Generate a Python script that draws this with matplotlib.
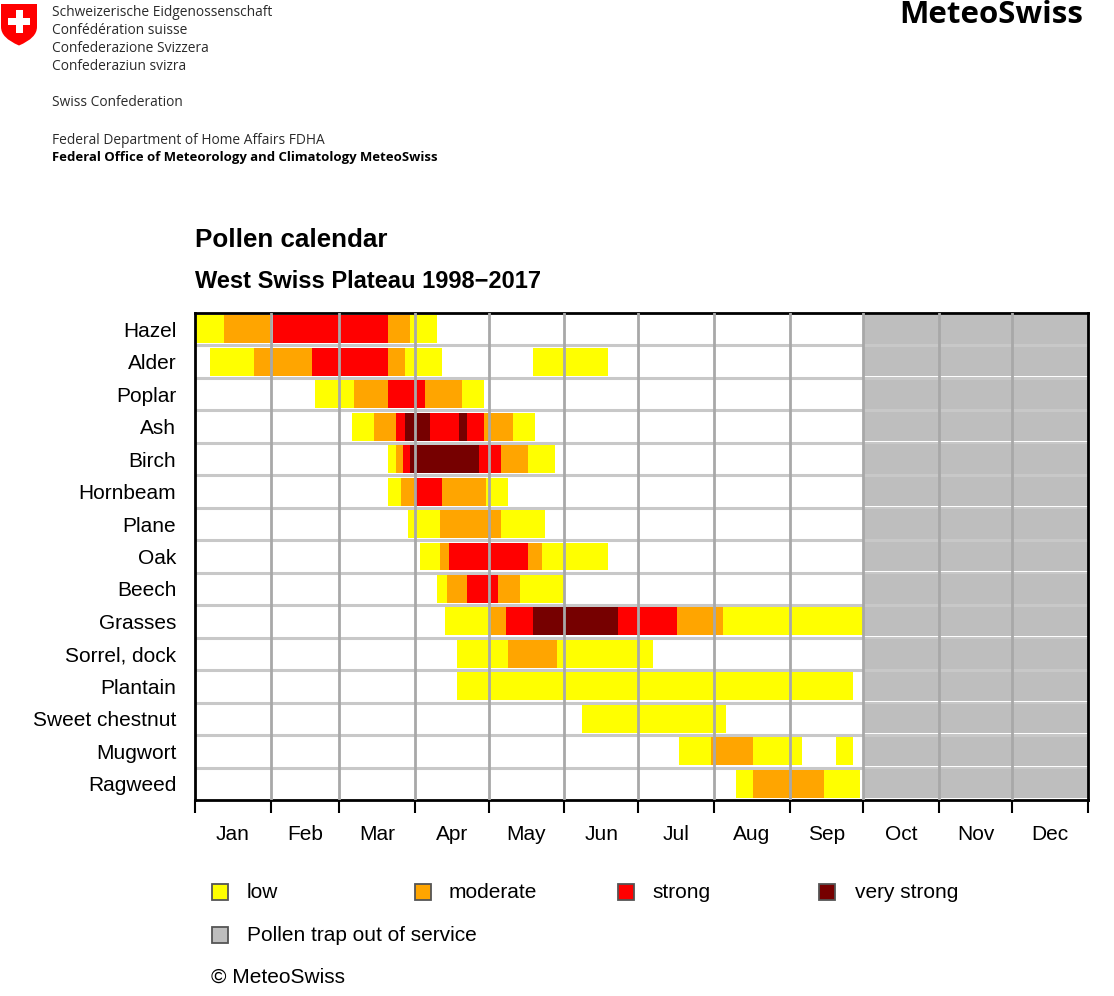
import matplotlib
matplotlib.use("Agg")
import matplotlib.pyplot as plt
from matplotlib.patches import Rectangle, PathPatch
from matplotlib.path import Path

# ── data (day of year, 0 = 1 Jan) ───────────────────────────────────────────
SPECIES = ["Hazel", "Alder", "Poplar", "Ash", "Birch", "Hornbeam", "Plane", "Oak",
           "Beech", "Grasses", "Sorrel, dock", "Plantain", "Sweet chestnut",
           "Mugwort", "Ragweed"]

# (start, end, level) with level 1=low 2=moderate 3=strong 4=very strong
HAZEL = [(0, 12, 1), (12, 31, 2), (32, 79, 3), (79, 88, 2), (88, 99, 1)]
ALDER = [(6, 24, 1), (24, 48, 2), (48, 79, 3), (79, 86, 2), (86, 101, 1), (138, 169, 1)]
POPLAR = [(49, 65, 1), (65, 79, 2), (79, 94, 3), (94, 109, 2), (109, 118, 1)]
ASH = [(64, 73, 1), (73, 82, 2), (82, 86, 3), (86, 96, 4), (96, 108, 3), (108, 111, 4),
       (111, 118, 3), (118, 130, 2), (130, 139, 1)]
BIRCH = [(79, 82, 1), (82, 85, 2), (85, 88, 3), (88, 116, 4), (116, 125, 3),
         (125, 136, 2), (136, 147, 1)]
HORNBEAM = [(79, 84, 1), (84, 90, 2), (90, 101, 3), (101, 119, 2), (119, 128, 1)]
PLANE = [(87, 100, 1), (100, 125, 2), (125, 143, 1)]
OAK = [(92, 100, 1), (100, 104, 2), (104, 136, 3), (136, 142, 2), (142, 169, 1)]
BEECH = [(99, 103, 1), (103, 111, 2), (111, 124, 3), (124, 133, 2), (133, 151, 1)]
GRASSES = [(102, 121, 1), (121, 127, 2), (127, 138, 3), (138, 173, 4), (173, 197, 3),
           (197, 216, 2), (216, 273, 1)]
SORREL = [(107, 128, 1), (128, 148, 2), (148, 187, 1)]
PLANTAIN = [(107, 269, 1)]
CHESTNUT = [(158, 217, 1)]
MUGWORT = [(198, 211, 1), (211, 228, 2), (228, 248, 1), (262, 269, 1)]
RAGWEED = [(221, 228, 1), (228, 257, 2), (257, 272, 1)]
SEGMENTS = [HAZEL, ALDER, POPLAR, ASH, BIRCH, HORNBEAM, PLANE, OAK, BEECH,
            GRASSES, SORREL, PLANTAIN, CHESTNUT, MUGWORT, RAGWEED]

OUT_OF_SERVICE = (273, 365)
MONTHS = ["Jan", "Feb", "Mar", "Apr", "May", "Jun", "Jul", "Aug", "Sep", "Oct", "Nov", "Dec"]
MONTH_STARTS = [0, 31, 59, 90, 120, 151, 181, 212, 243, 273, 304, 334, 365]
LEVEL_NAMES = ["low", "moderate", "strong", "very strong"]

COLORS = {1: "#ffff00", 2: "#ffa500", 3: "#ff0000", 4: "#760000"}
GREY = "#bebebe"

W, H = 1114, 996
plt.rcParams["font.family"] = ["Liberation Sans", "DejaVu Sans"]


def fx(px):
    return px / W


def fy(py):
    return 1 - py / H


fig = plt.figure(figsize=(W / 100, H / 100), dpi=100)

# ── header ──────────────────────────────────────────────────────────────────
verts = [(1, 4), (37, 4), (37, 27), (37, 38), (19, 45.5), (1, 38), (1, 27), (1, 4)]
codes = [Path.MOVETO, Path.LINETO, Path.LINETO, Path.CURVE3, Path.CURVE3,
         Path.CURVE3, Path.CURVE3, Path.CLOSEPOLY]
shield = Path([(fx(x), fy(y)) for x, y in verts], codes)
fig.patches.append(PathPatch(shield, facecolor="#ff0000", edgecolor="none",
                             transform=fig.transFigure))
for x0, y0, x1, y1 in [(15.5, 10.5, 22.5, 33.5), (8, 18.5, 30, 25.5)]:
    fig.patches.append(Rectangle((fx(x0), fy(y1)), fx(x1 - x0), (y1 - y0) / H,
                                 facecolor="white", edgecolor="none",
                                 transform=fig.transFigure))

HDR_FONT = dict(fontsize=9.9, family="Open Sans", color="#2a2a2a", va="center")
hdr = ["Schweizerische Eidgenossenschaft", "Confédération suisse",
       "Confederazione Svizzera", "Confederaziun svizra"]
for i, s in enumerate(hdr):
    fig.text(fx(52), fy(13 + 18 * i), s, **HDR_FONT)
fig.text(fx(52), fy(103), "Swiss Confederation", **HDR_FONT)
fig.text(fx(52), fy(140), "Federal Department of Home Affairs FDHA", **HDR_FONT)
fig.text(fx(52), fy(158), "Federal Office of Meteorology and Climatology MeteoSwiss",
         fontsize=9.45, family="Open Sans", fontweight="bold", color="black", va="center")
fig.text(fx(1083), fy(15), "MeteoSwiss", fontsize=22.5, family="Open Sans",
         fontweight="bold", ha="right", va="center")

fig.text(fx(195), fy(240), "Pollen calendar", fontsize=18.7, fontweight="bold", va="center")
fig.text(fx(195), fy(281), "West Swiss Plateau 1998\u22122017", fontsize=17,
         fontweight="bold", va="center")

# ── chart ───────────────────────────────────────────────────────────────────
ax = fig.add_axes([fx(195), fy(800), 893 / W, 487 / H])
n = len(SPECIES)
ax.set_xlim(0, 365)
ax.set_ylim(n, 0)

for b in range(1, n):
    ax.axhline(b, color="#c8c8c8", lw=2.2, zorder=1)

for i, segs in enumerate(SEGMENTS):
    for s, e, lvl in segs:
        ax.barh(i + 0.5, e - s, left=s, height=0.86, color=COLORS[lvl], zorder=2)
    ax.barh(i + 0.5, OUT_OF_SERVICE[1] - OUT_OF_SERVICE[0], left=OUT_OF_SERVICE[0],
            height=0.9, color=GREY, zorder=2)

for m in MONTH_STARTS[1:-1]:
    ax.axvline(m, color="#a8a8a8", lw=2, zorder=3)

ax.set_yticks([i + 0.5 for i in range(n)])
ax.set_yticklabels(SPECIES, fontsize=15)
ax.tick_params(axis="y", length=0, pad=13.5)
ax.set_xticks(MONTH_STARTS)
ax.set_xticklabels([])
ax.tick_params(axis="x", length=9, width=1.5, color="black")
for m, (a, b) in enumerate(zip(MONTH_STARTS[:-1], MONTH_STARTS[1:])):
    ax.text((a + b) / 2, n + 1.05, MONTHS[m], ha="center", va="center", fontsize=15)
for side in ["top", "left", "right", "bottom"]:
    ax.spines[side].set_linewidth(2)
    ax.spines[side].set_color("black")

# ── legend ──────────────────────────────────────────────────────────────────
leg_sq = [212, 415, 618, 819]
leg_tx = [247, 449, 652, 855]
for i, name in enumerate(LEVEL_NAMES):
    fig.patches.append(Rectangle((fx(leg_sq[i]), fy(900)), 16 / W, 16 / H,
                                 facecolor=COLORS[i + 1], edgecolor="#555555", lw=1.3,
                                 transform=fig.transFigure))
    fig.text(fx(leg_tx[i]), fy(892), name, fontsize=15, va="center")
fig.patches.append(Rectangle((fx(212), fy(943)), 16 / W, 16 / H, facecolor=GREY,
                             edgecolor="#555555", lw=1.3, transform=fig.transFigure))
fig.text(fx(247), fy(935), "Pollen trap out of service", fontsize=15, va="center")
fig.text(fx(211), fy(977), "\u00a9 MeteoSwiss", fontsize=15, va="center")

fig.savefig("out.png", dpi=100)
